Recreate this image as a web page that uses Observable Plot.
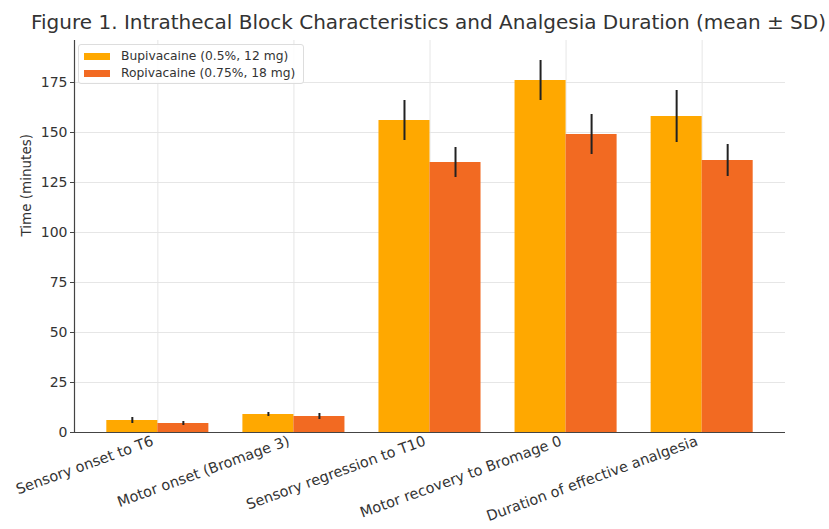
<!DOCTYPE html>
<html>
<head>
<meta charset="utf-8">
<script src="https://cdn.jsdelivr.net/npm/d3@7"></script>
<script src="https://cdn.jsdelivr.net/npm/@observablehq/plot@0.6"></script>
<style>
  body { margin: 0; background: #fff; font-family: "DejaVu Sans", sans-serif; }
  #wrap { position: relative; width: 829px; height: 529px; overflow: hidden; }
  #title { height: 34px; line-height: 44px; text-align: center; font-size: 20px; color: #333; padding-left: 28px; white-space: nowrap; }
  #legend { position: absolute; left: 78px; top: 44px; width: 224px; height: 38px; border: 1px solid #ddd; border-radius: 3px; background: rgba(255,255,255,0.85); font-size: 12.3px; color: #333; }
  .item { position: absolute; left: 5px; height: 16px; display: flex; align-items: center; white-space: nowrap; }
  .sw { width: 26px; height: 7px; margin-right: 11px; }
</style>
</head>
<body>
<div id="wrap">
  <div id="title">Figure 1. Intrathecal Block Characteristics and Analgesia Duration (mean ± SD)</div>
  <div id="chart"></div>
  <div id="legend"></div>
</div>
<script>
const categories = ["Sensory onset to T6", "Motor onset (Bromage 3)", "Sensory regression to T10", "Motor recovery to Bromage 0", "Duration of effective analgesia"];
const groups = ["Bupivacaine (0.5%, 12 mg)", "Ropivacaine (0.75%, 18 mg)"];
const colors = ["#ffa800", "#f26a22"];
const bupiMean = [6, 9, 156, 176, 158];
const bupiSD = [1.5, 1, 10, 10, 13];
const ropiMean = [4.5, 8, 135, 149, 136];
const ropiSD = [1, 1.5, 7.5, 10, 8];
const yTicks = [0, 25, 50, 75, 100, 125, 150, 175];
const barWidth = 0.375;

const data = [];
categories.forEach((c, i) => {
  data.push({i, category: c, g: 0, group: groups[0], mean: bupiMean[i], sd: bupiSD[i]});
  data.push({i, category: c, g: 1, group: groups[1], mean: ropiMean[i], sd: ropiSD[i]});
});
const idx = categories.map((c, i) => i);
const x1 = d => d.i + (d.g - 1) * barWidth;
const x2 = d => d.i + d.g * barWidth;
const xc = d => d.i + (d.g - 0.5) * barWidth;

const chart = Plot.plot({
  width: 829,
  height: 495,
  marginTop: 6,
  marginBottom: 97,
  marginLeft: 74,
  marginRight: 44,
  style: {fontFamily: "DejaVu Sans, sans-serif", fontSize: "14px", color: "#333", background: "#fff"},
  x: {domain: [-0.6125, 4.6125], axis: null},
  y: {domain: [0, 196], axis: null},
  color: {domain: groups, range: colors},
  marks: [
    Plot.gridY(yTicks, {stroke: "#e6e6e6", strokeOpacity: 1}),
    Plot.gridX(idx, {stroke: "#e6e6e6", strokeOpacity: 1}),
    Plot.rectY(data, {x1, x2, y: "mean", fill: "group"}),
    Plot.ruleX(data, {x: xc, y1: d => d.mean - d.sd, y2: d => d.mean + d.sd, stroke: "#222", strokeWidth: 2}),
    Plot.axisY(yTicks, {tickSize: 4, tickPadding: 3, fontSize: 14, stroke: "#444", color: "#333", label: null}),
    Plot.axisX(idx, {tickFormat: i => categories[i], tickRotate: -20, tickSize: 0, tickPadding: 8, dx: -5, fontSize: 14.5, label: null, textAnchor: "end"}),
    Plot.ruleY([0], {stroke: "#444", strokeWidth: 1.2}),
    Plot.frame({anchor: "left", stroke: "#444", strokeWidth: 1.2}),
    Plot.text(["Time (minutes)"], {frameAnchor: "left", dx: -48, rotate: -90, fontSize: 13.5, fill: "#333"})
  ]
});
document.getElementById("chart").appendChild(chart);

const legend = document.getElementById("legend");
groups.forEach((g, i) => {
  const item = document.createElement("div");
  item.className = "item";
  item.style.top = (3 + i * 17) + "px";
  item.innerHTML = `<span class="sw" style="background:${colors[i]}"></span>${g}`;
  legend.appendChild(item);
});
</script>
</body>
</html>
